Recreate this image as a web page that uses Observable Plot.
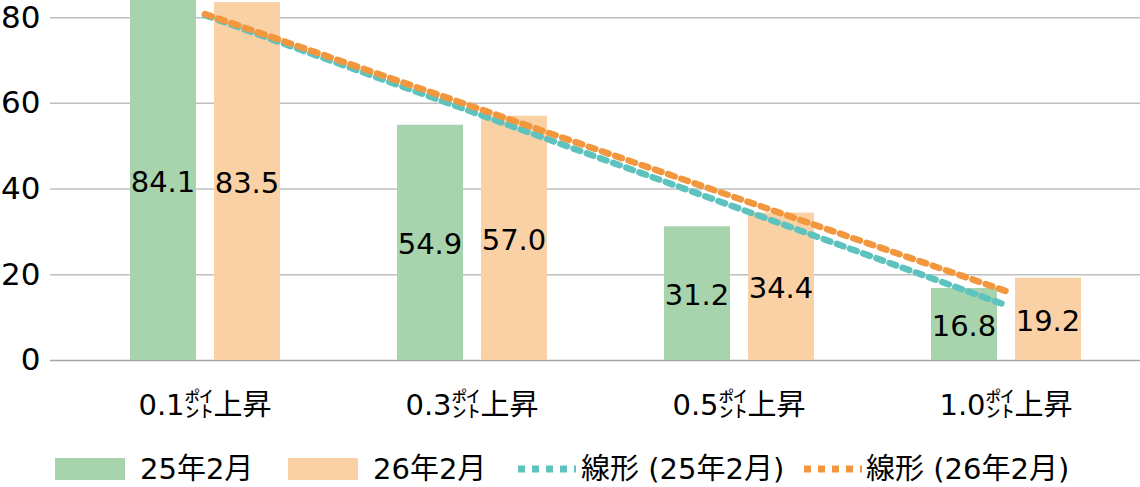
<!DOCTYPE html>
<html>
<head>
<meta charset="utf-8">
<script src="https://cdn.jsdelivr.net/npm/d3@7"></script>
<script src="https://cdn.jsdelivr.net/npm/@observablehq/plot@0.6"></script>
<style>
  html, body { margin: 0; padding: 0; background: #fff; }
  body { width: 1140px; height: 487px; overflow: hidden; font-family: "DejaVu Sans", "Noto Sans CJK JP", sans-serif; }
  #chart svg { display: block; }
  #legend { position: relative; height: 47px; font-size: 29px; line-height: 32px; color: #000; }
  .item { position: absolute; top: 13px; height: 32px; display: flex; align-items: center; white-space: nowrap; }
  .item svg { display: block; }
</style>
</head>
<body>
<div id="chart"></div>
<div id="legend"></div>
<script>
const categories = ["0.1㌽上昇", "0.3㌽上昇", "0.5㌽上昇", "1.0㌽上昇"];
const seriesNames = ["25年2月", "26年2月"];
const trendNames = ["線形 (25年2月)", "線形 (26年2月)"];
const values25 = [84.1, 54.9, 31.2, 16.8];
const values26 = [83.5, 57.0, 34.4, 19.2];
const yTicks = [0, 20, 40, 60, 80];

const colBar25 = "#A8D4AD", colBar26 = "#FAD1A5";
const colLine25 = "#5EC3BF", colLine26 = "#F3973F";

const rows25 = categories.map((c, i) => ({cat: c, v: values25[i]}));
const rows26 = categories.map((c, i) => ({cat: c, v: values26[i]}));

// Linear (least-squares) trendline, as the spreadsheet's "線形" trendline
function trend(vals) {
  const xs = vals.map((_, i) => i + 1);
  const mx = d3.mean(xs), my = d3.mean(vals);
  const b = d3.sum(xs, (x, i) => (x - mx) * (vals[i] - my)) / d3.sum(xs, x => (x - mx) ** 2);
  const a = my - b * mx;
  return categories.map((c, i) => ({cat: c, v: a + b * xs[i]}));
}
const trend25 = trend(values25);
const trend26 = trend(values26);

const fontSize = 29;
const chart = Plot.plot({
  width: 1140,
  height: 440,
  marginLeft: 50,
  marginRight: 0,
  marginTop: 0,
  marginBottom: 80,
  style: {fontSize: fontSize + "px", fontFamily: "'DejaVu Sans', 'Noto Sans CJK JP', sans-serif", color: "#000", background: "#fff", overflow: "hidden"},
  x: {domain: categories, padding: 0, insetLeft: 19, label: null},
  y: {domain: [0, 84], label: null},
  marks: [
    Plot.ruleY(yTicks.filter(t => t > 0), {stroke: "#BFBFBF", strokeWidth: 1.5}),
    Plot.ruleY([0], {stroke: "#A6A6A6", strokeWidth: 1.5}),
    Plot.barY(rows25, {x: "cat", y: "v", fill: colBar25, insetLeft: 59, insetRight: 142}),
    Plot.barY(rows26, {x: "cat", y: "v", fill: colBar26, insetLeft: 143, insetRight: 58}),
    Plot.text(rows25, {x: "cat", y: d => d.v / 2, text: d => d.v.toFixed(1), dx: -42, dy: 2, fill: "#000", fontSize: fontSize}),
    Plot.text(rows26, {x: "cat", y: d => d.v / 2, text: d => d.v.toFixed(1), dx: 42, dy: 2, fill: "#000", fontSize: fontSize}),
    Plot.line(trend25, {x: "cat", y: "v", stroke: colLine25, strokeWidth: 6.5, strokeDasharray: "7,7"}),
    Plot.line(trend26, {x: "cat", y: "v", stroke: colLine26, strokeWidth: 6.5, strokeDasharray: "7,7"}),
    Plot.axisY({ticks: yTicks, tickSize: 0, tickPadding: 10, label: null, fontSize: 31}),
    Plot.axisX({tickSize: 0, tickPadding: 34, label: null, fontSize: fontSize})
  ]
});
document.getElementById("chart").appendChild(chart);

// Legend
const legend = document.getElementById("legend");
function rectSwatch(color) {
  return `<svg width="70" height="22"><rect width="70" height="22" fill="${color}"/></svg>`;
}
function dotSwatch(color) {
  return `<svg width="58" height="10"><line x1="0" y1="5" x2="58" y2="5" stroke="${color}" stroke-width="7" stroke-dasharray="7,7"/></svg>`;
}
const items = [
  {left: 55, sw: rectSwatch(colBar25), gap: 15, text: seriesNames[0]},
  {left: 288, sw: rectSwatch(colBar26), gap: 15, text: seriesNames[1]},
  {left: 518, sw: dotSwatch(colLine25), gap: 5, text: trendNames[0]},
  {left: 804, sw: dotSwatch(colLine26), gap: 4, text: trendNames[1]}
];
for (const it of items) {
  const d = document.createElement("div");
  d.className = "item";
  d.style.left = it.left + "px";
  d.innerHTML = it.sw + `<span style="margin-left:${it.gap}px">${it.text}</span>`;
  legend.appendChild(d);
}
</script>
</body>
</html>
